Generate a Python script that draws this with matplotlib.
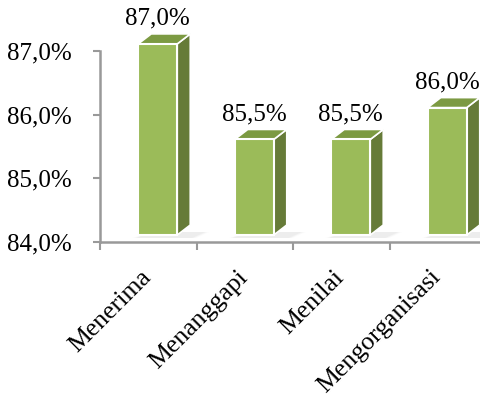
import numpy as np
import matplotlib
matplotlib.use("Agg")
import matplotlib.pyplot as plt
from matplotlib.patches import Polygon
from matplotlib.transforms import offset_copy

kategori = ["Menerima", "Menanggapi", "Menilai", "Mengorganisasi"]
nilai = [87.0, 85.5, 85.5, 86.0]
y_ticks = [84.0, 85.0, 86.0, 87.0]

plt.rcParams['font.family'] = ['Liberation Serif', 'DejaVu Serif']

W, H = 481, 394
fig = plt.figure(figsize=(W / 100, H / 100), dpi=100)
# Achse: x von 100 bis 486 px, y-Boden bei 242 px
ax = fig.add_axes([100 / W, (H - 242) / H, 386 / W, 242 / H])
ax.set_xlim(-0.5, 3.5)
ax.set_ylim(84.0, 84.0 + 242 / 63.7)

px_x = 1 / 96.5      # Einheiten pro Pixel in x
px_y = 1 / 63.7      # Prozent pro Pixel in y

warna_depan = "#9BBB59"
warna_atas = "#7C9A42"
warna_samping = "#667B38"

for i, v in enumerate(nilai):
    x0 = i - 10 * px_x
    x1 = i + 29 * px_x
    dx = 13 * px_x
    dy = 10 * px_y
    y0 = 84.0 + 7 * px_y
    y1 = v + 7 * px_y
    # Schatten unter dem Balken
    for k, a in enumerate([0.03, 0.05, 0.07]):
        s = (3 - k) * px_x * 2
        ax.add_patch(Polygon([(x0 - s, y0 - 3 * px_y), (x1 + dx + s, y0 - 3 * px_y),
                              (x1 + dx + s + dx, y0 + 3 * px_y), (x0 + dx, y0 + 3 * px_y)],
                             closed=True, facecolor="#888888", edgecolor="none",
                             alpha=a, zorder=1, clip_on=False))
    # Seitenfläche
    ax.add_patch(Polygon([(x1, y0), (x1 + dx, y0 + dy), (x1 + dx, y1 + dy), (x1, y1)],
                         closed=True, facecolor=warna_samping, edgecolor="white",
                         linewidth=1.2, zorder=2, clip_on=False))
    # Deckfläche
    ax.add_patch(Polygon([(x0, y1), (x1, y1), (x1 + dx, y1 + dy), (x0 + dx, y1 + dy)],
                         closed=True, facecolor=warna_atas, edgecolor="white",
                         linewidth=1.2, zorder=2, clip_on=False))
    # Vorderseite
    ax.add_patch(Polygon([(x0, y0), (x1, y0), (x1, y1), (x0, y1)],
                         closed=True, facecolor=warna_depan, edgecolor="white",
                         linewidth=1.5, zorder=3, clip_on=False))
    label = f"{v:.1f}%".replace(".", ",")
    ax.text((x0 + x1) / 2, y1 + dy + 4 * px_y, label, ha="center", va="bottom",
            fontsize=18, color="black", zorder=4)

for s in ["top", "right"]:
    ax.spines[s].set_visible(False)
ax.spines["left"].set_bounds(84.0, 87.0)
for s in ["left", "bottom"]:
    ax.spines[s].set_color("#999999")
    ax.spines[s].set_linewidth(1.8)

ax.set_yticks(y_ticks)
ax.set_yticklabels([f"{t:.1f}%".replace(".", ",") for t in y_ticks])
ax.tick_params(axis="y", direction="out", length=5, width=1.5, color="#999999",
               labelsize=18, pad=15)

ax.set_xticks(np.arange(-0.5, len(kategori), 1.0))
ax.set_xticklabels([])
ax.tick_params(axis="x", which="major", direction="out", length=6, width=1.5,
               color="#999999")

# Kategorienamen schräg, Grundlinienende knapp rechts unter der Kategoriemitte
trans = offset_copy(ax.get_xaxis_transform(), fig=fig, x=4, y=-36, units="dots")
for i, k in enumerate(kategori):
    ax.text(i, 0, k, transform=trans, rotation=45, rotation_mode="anchor",
            ha="right", va="baseline", fontsize=18.5, clip_on=False)

fig.savefig("out.png", dpi=100)
